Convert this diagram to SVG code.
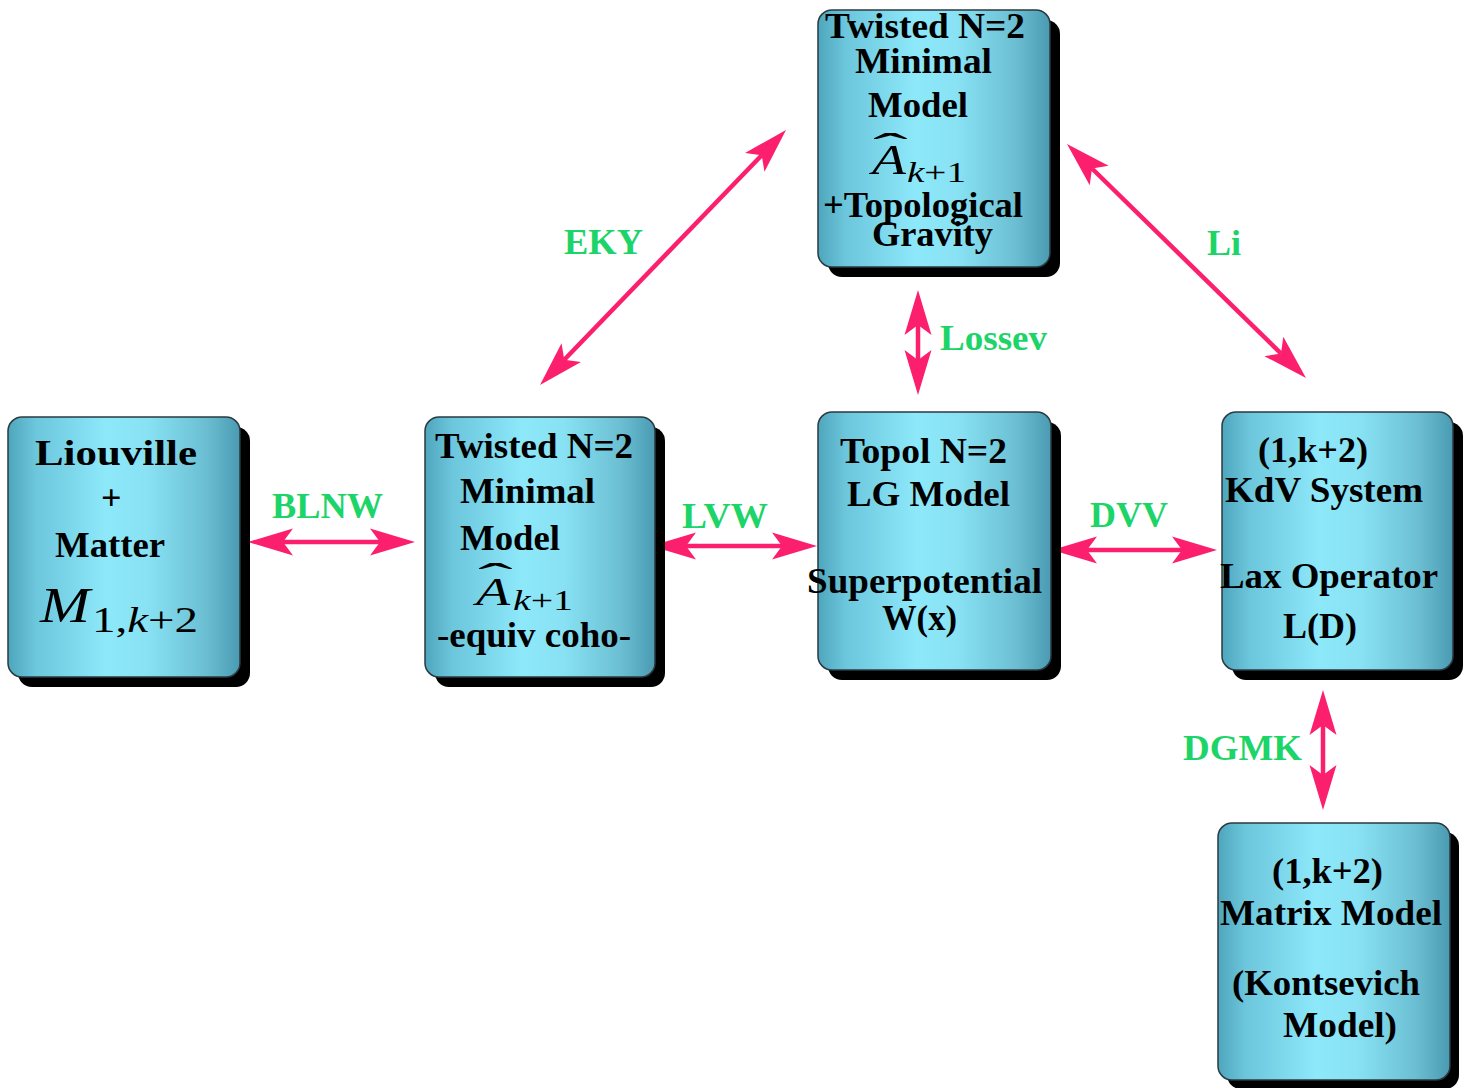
<svg xmlns="http://www.w3.org/2000/svg" width="1470" height="1088" viewBox="0 0 1470 1088">
<style>
.shadow{fill:#000}
.box{fill:url(#g);stroke:#2a3a40;stroke-width:1.5}
.t{font-family:"Liberation Serif","Times New Roman",serif;font-weight:bold;font-size:36px;fill:#000}
.m{font-family:"Liberation Serif","Times New Roman",serif;font-style:italic;fill:#000}
.r{font-family:"Liberation Serif","Times New Roman",serif;fill:#000}
.lab{font-family:"Liberation Serif","Times New Roman",serif;font-weight:bold;font-size:36px;fill:#1cd468}
.c{stroke:#fc1f6e;stroke-width:4.5;fill:none;marker-start:url(#ah);marker-end:url(#ah)}
</style>
<defs>
<linearGradient id="g" x1="0" y1="0" x2="1" y2="0">
<stop offset="0" stop-color="#4ea6bd"/>
<stop offset="0.12" stop-color="#6cc6dc"/>
<stop offset="0.42" stop-color="#8de8fa"/>
<stop offset="0.6" stop-color="#88e2f4"/>
<stop offset="0.85" stop-color="#6cbfd3"/>
<stop offset="1" stop-color="#4a9bb2"/>
</linearGradient>
<marker id="ah" markerUnits="userSpaceOnUse" viewBox="0 0 46 30" markerWidth="46" markerHeight="30" refX="10" refY="15" orient="auto-start-reverse">
<path d="M45,15 L0,1.5 L10,15 L0,28.5 Z" fill="#fc1f6e"/>
</marker>
</defs>
<rect width="1470" height="1088" fill="#fff"/>

<g id="connectors">
<line class="c" x1="283" y1="542" x2="380" y2="542"/>
<line class="c" x1="686" y1="546" x2="782" y2="546"/>
<line class="c" x1="1087" y1="550" x2="1182" y2="550"/>
<line class="c" x1="918" y1="325" x2="918" y2="360"/>
<line class="c" x1="1323" y1="725" x2="1323" y2="775"/>
<line class="c" x1="564.3" y1="359.8" x2="761.7" y2="155.2"/>
<line class="c" x1="1092" y1="168.5" x2="1281" y2="353.5"/>
<text class="lab" x="272" y="518" textLength="111" lengthAdjust="spacingAndGlyphs">BLNW</text>
<text class="lab" x="682" y="528" textLength="86" lengthAdjust="spacingAndGlyphs">LVW</text>
<text class="lab" x="1090" y="527" textLength="78" lengthAdjust="spacingAndGlyphs">DVV</text>
<text class="lab" x="940" y="350" textLength="107" lengthAdjust="spacingAndGlyphs">Lossev</text>
<text class="lab" x="1183" y="760" textLength="119" lengthAdjust="spacingAndGlyphs">DGMK</text>
<text class="lab" x="564" y="254" textLength="79" lengthAdjust="spacingAndGlyphs">EKY</text>
<text class="lab" x="1207" y="255" textLength="34" lengthAdjust="spacingAndGlyphs">Li</text>
</g>

<g id="liouville">
<rect class="shadow" x="18" y="427" width="232" height="260" rx="14"/>
<rect class="box" x="8" y="417" width="232" height="260" rx="14"/>
<text class="t" x="35" y="465" font-size="40" textLength="162" lengthAdjust="spacingAndGlyphs">Liouville</text>
<text class="t" x="101" y="510">+</text>
<text class="t" x="55" y="557" textLength="110" lengthAdjust="spacingAndGlyphs">Matter</text>
<text class="m" x="40" y="622" font-size="50" textLength="50" lengthAdjust="spacingAndGlyphs">M</text>
<text class="r" x="92" y="632" font-size="36" textLength="106" lengthAdjust="spacingAndGlyphs">1,<tspan font-style="italic">k</tspan>+2</text>
</g>

<g id="twisted-mid">
<rect class="shadow" x="435" y="427" width="230" height="260" rx="14"/>
<rect class="box" x="425" y="417" width="230" height="260" rx="14"/>
<text class="t" x="435" y="458" textLength="198" lengthAdjust="spacingAndGlyphs">Twisted N=2</text>
<text class="t" x="460" y="503" textLength="135" lengthAdjust="spacingAndGlyphs">Minimal</text>
<text class="t" x="460" y="550" textLength="100" lengthAdjust="spacingAndGlyphs">Model</text>
<text class="r" font-size="40" transform="translate(478,591) scale(2.6,1)">ˆ</text>
<text class="m" x="476" y="605" font-size="40" textLength="34" lengthAdjust="spacingAndGlyphs">A</text>
<text class="r" x="513" y="610" font-size="30" textLength="60" lengthAdjust="spacingAndGlyphs"><tspan font-style="italic">k</tspan>+1</text>
<text class="t" x="437" y="647" textLength="194" lengthAdjust="spacingAndGlyphs">-equiv coho-</text>
</g>

<g id="twisted-top">
<rect class="shadow" x="828" y="20" width="232" height="257" rx="14"/>
<rect class="box" x="818" y="10" width="232" height="257" rx="14"/>
<text class="t" x="825" y="38" textLength="200" lengthAdjust="spacingAndGlyphs">Twisted N=2</text>
<text class="t" x="855" y="73" textLength="137" lengthAdjust="spacingAndGlyphs">Minimal</text>
<text class="t" x="868" y="117" textLength="100" lengthAdjust="spacingAndGlyphs">Model</text>
<text class="r" font-size="40" transform="translate(873,161) scale(2.6,1)">ˆ</text>
<text class="m" x="872" y="174" font-size="42" textLength="34" lengthAdjust="spacingAndGlyphs">A</text>
<text class="r" x="907" y="182" font-size="30" textLength="59" lengthAdjust="spacingAndGlyphs"><tspan font-style="italic">k</tspan>+1</text>
<text class="t" x="823" y="217" textLength="200" lengthAdjust="spacingAndGlyphs">+Topological</text>
<text class="t" x="872" y="246" textLength="121" lengthAdjust="spacingAndGlyphs">Gravity</text>
</g>

<g id="topol-lg">
<rect class="shadow" x="828" y="422" width="233" height="258" rx="14"/>
<rect class="box" x="818" y="412" width="233" height="258" rx="14"/>
<text class="t" x="840" y="463" textLength="167" lengthAdjust="spacingAndGlyphs">Topol N=2</text>
<text class="t" x="847" y="506" textLength="163" lengthAdjust="spacingAndGlyphs">LG Model</text>
<text class="t" x="807" y="593" textLength="235" lengthAdjust="spacingAndGlyphs">Superpotential</text>
<text class="t" x="882" y="630" textLength="75" lengthAdjust="spacingAndGlyphs">W(x)</text>
</g>

<g id="kdv">
<rect class="shadow" x="1232" y="422" width="231" height="258" rx="14"/>
<rect class="box" x="1222" y="412" width="231" height="258" rx="14"/>
<text class="t" x="1258" y="462" textLength="110" lengthAdjust="spacingAndGlyphs">(1,k+2)</text>
<text class="t" x="1225" y="502" textLength="198" lengthAdjust="spacingAndGlyphs">KdV System</text>
<text class="t" x="1220" y="588" textLength="218" lengthAdjust="spacingAndGlyphs">Lax Operator</text>
<text class="t" x="1283" y="638" textLength="74" lengthAdjust="spacingAndGlyphs">L(D)</text>
</g>

<g id="matrix">
<rect class="shadow" x="1227" y="832" width="232" height="257" rx="14"/>
<rect class="box" x="1218" y="823" width="232" height="257" rx="14"/>
<text class="t" x="1272" y="883" textLength="111" lengthAdjust="spacingAndGlyphs">(1,k+2)</text>
<text class="t" x="1220" y="925" textLength="222" lengthAdjust="spacingAndGlyphs">Matrix Model</text>
<text class="t" x="1232" y="995" textLength="188" lengthAdjust="spacingAndGlyphs">(Kontsevich</text>
<text class="t" x="1283" y="1037" textLength="114" lengthAdjust="spacingAndGlyphs">Model)</text>
</g>
</svg>
